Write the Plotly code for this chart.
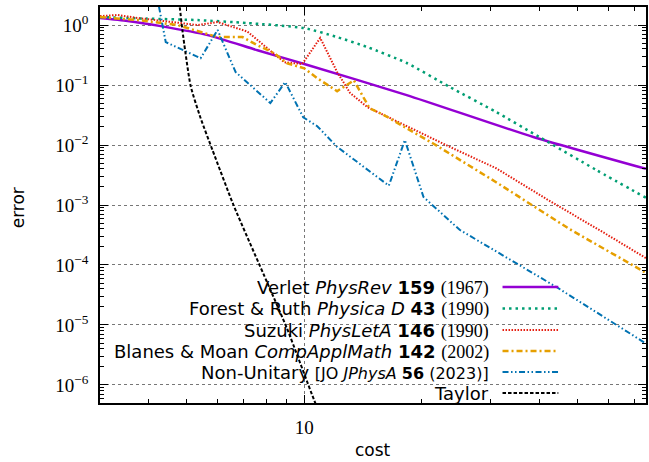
import plotly.graph_objects as go

# ---------------- data ----------------
verlet_cost = [3.0, 3.53, 4.29, 5.66, 7.59, 10.0, 18.3, 38.6, 75.0]
verlet_err = [1.31, 1.17, 0.96, 0.68, 0.38, 0.224, 0.068, 0.0136, 0.0040]

forest_cost = [3.0, 3.94, 5.33, 7.15, 10.0, 12.14, 14.5, 18.3, 23.6, 31.0, 40.0, 55.9, 75.0]
forest_err = [1.36, 1.28, 1.21, 1.08, 0.89, 0.63, 0.43, 0.233, 0.0925, 0.0355, 0.0136, 0.00385, 0.00132]

suzuki_cost = [3.0, 3.33, 3.75, 4.74, 5.33, 6.0, 7.15, 8.05, 8.89, 9.88, 10.99, 12.14, 13.1,
               14.5, 23.6, 31.0, 42.4, 58.3, 75.0]
suzuki_err = [1.41, 1.47, 1.31, 1.08, 1.0, 1.12, 0.78, 0.41, 0.24, 0.224, 0.61, 0.165, 0.074,
              0.043, 0.0093, 0.0041, 0.00118, 0.00035, 0.00013]

blanes_cost = [3.0, 3.75, 4.74, 6.0, 6.95, 7.59, 8.38, 9.05, 10.0, 10.8, 12.14, 13.4, 14.7,
               16.0, 21.5, 31.0, 47.7, 75.0]
blanes_err = [1.36, 1.21, 1.0, 0.63, 0.63, 0.46, 0.34, 0.23, 0.19, 0.13, 0.079, 0.12, 0.041,
              0.0316, 0.0104, 0.0024, 0.0004, 7.4e-5]

nonunitary_cost = [4.17, 4.42, 5.43, 6.0, 6.67, 8.19, 8.94, 9.94, 10.8, 12.14, 16.47, 18.1,
                   20.2, 25.0, 44.2, 75.0]
nonunitary_err = [3.8, 0.52, 0.28, 0.83, 0.165, 0.050, 0.112, 0.029, 0.0206, 0.0093, 0.0021,
                  0.0121, 0.00136, 0.000386, 4.3e-5, 4.9e-6]

taylor_cost = [4.69, 4.80, 4.88, 5.12, 5.43, 5.82, 6.59, 8.05, 9.05, 10.6, 11.1]
taylor_err = [5.6, 2.0, 0.79, 0.096, 0.028, 0.0083, 0.001, 5.0e-5, 8.5e-6, 5.6e-7, 2.7e-7]

labels = [
    "Verlet <i>PhysRev</i> <b>159</b> <span style='font-family:Liberation Serif'>(1967)</span>",
    "Forest &amp; Ruth <i>Physica D</i> <b>43</b> <span style='font-family:Liberation Serif'>(1990)</span>",
    "Suzuki <i>PhysLetA</i> <b>146</b> <span style='font-family:Liberation Serif'>(1990)</span>",
    "Blanes &amp; Moan <i>CompApplMath</i> <b>142</b> <span style='font-family:Liberation Serif'>(2002)</span>",
    "Non-Unitary <span style='font-size:16px'>[JO <i>JPhysA</i> <b>56</b> (2023)]</span>",
    "Taylor",
]

x_tick_vals = [10]
x_tick_text = ["10"]
x_minor_vals = [3, 4, 5, 6, 7, 8, 9, 20, 30, 40, 50, 60, 70]
y_tick_vals = [1, 1e-1, 1e-2, 1e-3, 1e-4, 1e-5, 1e-6]
y_tick_text = ["10<sup>0</sup>", "10<sup>−1</sup>", "10<sup>−2</sup>", "10<sup>−3</sup>",
               "10<sup>−4</sup>", "10<sup>−5</sup>", "10<sup>−6</sup>"]
y_minor_vals = [k * 10.0 ** e for e in range(-7, 1) for k in range(2, 10)]

# ---------------- styles ----------------
series = [
    (verlet_cost, verlet_err, "#9400d3", 2.5, "solid", "spline"),
    (forest_cost, forest_err, "#009e73", 2.5, "2.5px,4px", "spline"),
    (suzuki_cost, suzuki_err, "#e51e10", 2.0, "1.5px,1.5px", "linear"),
    (blanes_cost, blanes_err, "#e69f00", 2.5, "6px,3px,2px,3px", "linear"),
    (nonunitary_cost, nonunitary_err, "#0072b2", 2.0, "6px,2.5px,1.5px,2.5px,1.5px,2.5px", "linear"),
    (taylor_cost, taylor_err, "black", 2.0, "3.5px,2px", "spline"),
]

fig = go.Figure()
for (xs, ys, col, w, dash, shape), name in zip(series, labels):
    fig.add_trace(go.Scatter(
        x=xs, y=ys, mode="lines", name=name, showlegend=False,
        line=dict(color=col, width=w, dash=dash, shape=shape,
                  smoothing=0.6 if shape == "spline" else None),
    ))

# plot area geometry
L, R, T, B = 100, 1, 7, 59
W, H = 649, 462
pw, ph = W - L - R, H - T - B

def px(x):
    return (x - L) / pw

def py(y):
    return (H - B - y) / ph

shapes = [
    # opaque key box (hides grid only)
    dict(type="rect", xref="paper", yref="paper", x0=px(148), x1=px(573), y0=0, y1=py(245),
         fillcolor="white", line=dict(width=0), layer="between"),
]
annotations = []
row_y = [287, 308.5, 330, 351, 372, 393]
for (xs, ys, col, w, dash, shape), name, ry in zip(series, labels, row_y):
    annotations.append(dict(text=name, xref="paper", yref="paper", x=px(491), y=py(ry),
                            xanchor="right", yanchor="middle", showarrow=False,
                            height=21, borderpad=0, valign="middle",
                            font=dict(family="DejaVu Sans", size=18, color="black")))
    shapes.append(dict(type="line", xref="paper", yref="paper", x0=px(504), x1=px(560),
                       y0=py(ry), y1=py(ry), line=dict(color=col, width=w, dash=dash),
                       layer="above"))

annotations.append(dict(text="error", xref="paper", yref="paper", x=px(18), y=py(208),
                        textangle=-90, showarrow=False, xanchor="center", yanchor="middle",
                        font=dict(family="DejaVu Sans", size=17, color="black")))
annotations.append(dict(text="cost", xref="paper", yref="paper", x=px(374), y=py(450),
                        showarrow=False, xanchor="center", yanchor="middle",
                        font=dict(family="DejaVu Sans", size=17, color="black")))

axis_common = dict(showline=True, linecolor="black", linewidth=1.5, mirror="allticks",
                   ticks="inside", ticklen=8, tickwidth=1, tickcolor="black",
                   showgrid=True, gridcolor="#777777", griddash="dot", gridwidth=1,
                   zeroline=False,
                   tickfont=dict(family="Liberation Serif", size=19, color="black"))

fig.update_xaxes(type="log", range=[0.4771, 1.8751], tickmode="array",
                 tickvals=x_tick_vals, ticktext=x_tick_text, ticklabelstandoff=6,
                 minor=dict(tickmode="array", tickvals=x_minor_vals, ticks="inside",
                            ticklen=4, tickcolor="black", showgrid=False),
                 **axis_common)
fig.update_yaxes(type="log", range=[-6.301, 0.301], tickmode="array",
                 tickvals=y_tick_vals, ticktext=y_tick_text, ticklabelstandoff=6,
                 minor=dict(tickmode="array", tickvals=y_minor_vals, ticks="inside",
                            ticklen=4, tickcolor="black", showgrid=False),
                 **axis_common)

fig.update_layout(width=W, height=H, margin=dict(l=L, r=R, t=T, b=B),
                  plot_bgcolor="white", paper_bgcolor="white",
                  shapes=shapes, annotations=annotations, showlegend=False)

fig.write_html("out.html")
